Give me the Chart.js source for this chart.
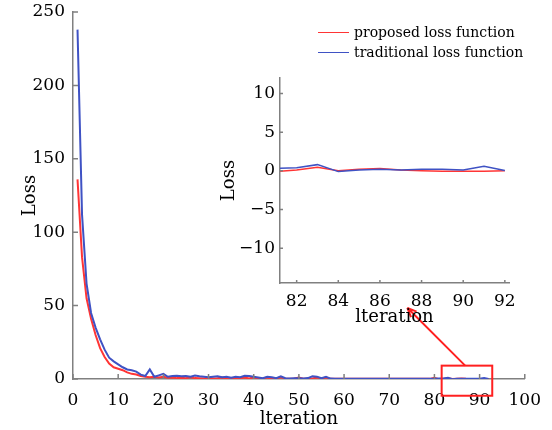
<!DOCTYPE html>
<html>
<head>
<meta charset="utf-8">
<script src="https://cdn.jsdelivr.net/npm/chart.js@4.4.1/dist/chart.umd.min.js"></script>
<style>
    html, body { margin: 0; padding: 0; background: #fff; }
    #wrap { position: relative; width: 552px; height: 430px; }
    #mainChart { position: absolute; left: 0; top: 0; }
    #insetChart { position: absolute; left: 215px; top: 70px; }
    #legend { position: absolute; left: 318px; top: 22px; font-family: "DejaVu Serif", serif; font-size: 14px; color: #000; }
    #legend .item { display: flex; align-items: center; height: 20px; }
    #legend .swatch { width: 31px; height: 0; border-top: 1.5px solid; margin-right: 5px; }
</style>
</head>
<body>
<div id="wrap">
    <canvas id="mainChart" width="552" height="430"></canvas>
    <canvas id="insetChart" width="310" height="260"></canvas>
    <div id="legend"></div>
</div>
<script>
// Iterations (x values)
const iterations = [
    1, 2, 3, 4, 5, 6, 7, 8, 9, 10, 11, 12, 13, 14, 15, 16, 17, 18, 19, 20,
    21, 22, 23, 24, 25, 26, 27, 28, 29, 30, 31, 32, 33, 34, 35, 36, 37, 38, 39, 40,
    41, 42, 43, 44, 45, 46, 47, 48, 49, 50, 51, 52, 53, 54, 55, 56, 57, 58, 59, 60,
    61, 62, 63, 64, 65, 66, 67, 68, 69, 70, 71, 72, 73, 74, 75, 76, 77, 78, 79, 80,
    81, 82, 83, 84, 85, 86, 87, 88, 89, 90, 91, 92
];

// Loss of the proposed loss function
const proposedLoss = [
    136, 83, 55, 41, 30, 21, 15, 10.5, 8, 7, 6, 4.5, 3.5, 3, 2, 1.5, 1.2, 1.5, 1, 1.5,
    0.8, 1, 0.6, 0.8, 0.5, 1.2, 0.6, 0.5, 0.4, 0.6, 0.3, 0.5, 1.0, 0.3, 0.2, 0.3, 0.5, 1.0, 0.3, 1.2,
    0.2, 0.3, 1.0, 0.2, 0.3, 1.2, 0.2, 0.2, 0.3, 1.0, 0.2, 0.2, 0.3, 1.0, 0.3, 1.0, 0.2, 0.1, 0.1, 0.1,
    0.1, 0.1, 0.1, 0.1, 0.1, 0.1, 0.1, 0.1, 0.1, 0.1, 0.1, 0.1, 0.1, 0.1, 0.1, 0.1, 0.1, 0.1, 0.1, 0.8,
    -0.1, 0.1, 0.45, 0.0, 0.2, 0.3, 0.1, 0.0, -0.05, -0.05, -0.05, 0.0
];

// Loss of the traditional loss function
const traditionalLoss = [
    238, 112, 65, 45, 35, 27, 20, 14.5, 12, 10, 8, 6.5, 6, 5, 3, 2, 6.5, 1.5, 2.5, 3.5,
    1.5, 2, 2.2, 1.8, 2, 1.5, 2.3, 1.8, 1.5, 1.2, 1.5, 1.8, 1.2, 1.5, 0.8, 1.5, 1.2, 2.2, 2, 1.5,
    1.0, 0.5, 1.5, 1.2, 0.6, 1.8, 0.5, 0.4, 0.5, 0.5, 0.4, 0.6, 1.8, 1.6, 0.5, 1.5, 0.3, 0.1, 0.1, 0.1,
    0.1, 0.1, 0.1, 0.1, 0.1, 0.1, 0.1, 0.1, 0.1, 0.1, 0.1, 0.1, 0.1, 0.1, 0.1, 0.1, 0.1, 0.1, 0.1, 0.1,
    0.3, 0.4, 0.8, -0.1, 0.1, 0.2, 0.1, 0.2, 0.2, 0.1, 0.6, 0.05
];

// Tick labels
const mainXTicks = [0, 10, 20, 30, 40, 50, 60, 70, 80, 90, 100];
const mainYTicks = [0, 50, 100, 150, 200, 250];
const insetXTicks = [82, 84, 86, 88, 90, 92];
const insetYTicks = [-10, -5, 0, 5, 10];

const seriesLabels = ['proposed loss function', 'traditional loss function'];
const seriesColors = ['#ff3535', '#3f52c4'];

const FONT = "'DejaVu Serif', serif";
const AXIS_COLOR = '#808080';

function toPoints(values) {
    return iterations.map(function(it, i) { return { x: it, y: values[i] }; });
}

function buildDatasets(width) {
    return [
        {
            label: seriesLabels[0],
            data: toPoints(proposedLoss),
            borderColor: seriesColors[0],
            borderWidth: width,
            pointRadius: 0,
            tension: 0,
            order: 1
        },
        {
            label: seriesLabels[1],
            data: toPoints(traditionalLoss),
            borderColor: seriesColors[1],
            borderWidth: width,
            pointRadius: 0,
            tension: 0,
            order: 0
        }
    ];
}

// Draws short tick marks pointing into the plot area
const innerTicks = {
    id: 'innerTicks',
    afterDraw: function(chart, args, opts) {
        const ctx = chart.ctx;
        const len = opts.length || 5;
        ctx.save();
        ctx.strokeStyle = AXIS_COLOR;
        ctx.lineWidth = 1.5;
        const xs = chart.scales.x, ys = chart.scales.y;
        ctx.beginPath();
        xs.ticks.forEach(function(t) {
            const px = xs.getPixelForValue(t.value);
            ctx.moveTo(px, xs.top);
            ctx.lineTo(px, xs.top - len);
        });
        ys.ticks.forEach(function(t) {
            const py = ys.getPixelForValue(t.value);
            ctx.moveTo(ys.right, py);
            ctx.lineTo(ys.right + len, py);
        });
        ctx.stroke();
        ctx.restore();
    }
};

// Zoom rectangle and arrow pointing to the inset (data coordinates)
const zoomMark = {
    box: { xMin: 81.6, xMax: 92.8, yMin: -11.4, yMax: 9.1 },
    arrow: { fromX: 86.8, fromY: 9.1, toX: 74.0, toY: 48.5 }
};

const zoomBoxPlugin = {
    id: 'zoomBox',
    afterDraw: function(chart) {
        const ctx = chart.ctx;
        const xs = chart.scales.x, ys = chart.scales.y;
        const b = zoomMark.box, a = zoomMark.arrow;
        const x1 = xs.getPixelForValue(b.xMin), x2 = xs.getPixelForValue(b.xMax);
        const y1 = ys.getPixelForValue(b.yMax), y2 = ys.getPixelForValue(b.yMin);
        const ax1 = xs.getPixelForValue(a.fromX), ay1 = ys.getPixelForValue(a.fromY);
        const ax2 = xs.getPixelForValue(a.toX), ay2 = ys.getPixelForValue(a.toY);
        ctx.save();
        ctx.strokeStyle = '#ff2020';
        ctx.lineWidth = 2;
        ctx.strokeRect(x1, y1, x2 - x1, y2 - y1);
        ctx.beginPath();
        ctx.moveTo(ax1, ay1);
        ctx.lineTo(ax2, ay2);
        const ang = Math.atan2(ay2 - ay1, ax2 - ax1);
        const head = 10;
        ctx.moveTo(ax2, ay2);
        ctx.lineTo(ax2 - head * Math.cos(ang - 0.4), ay2 - head * Math.sin(ang - 0.4));
        ctx.moveTo(ax2, ay2);
        ctx.lineTo(ax2 - head * Math.cos(ang + 0.4), ay2 - head * Math.sin(ang + 0.4));
        ctx.stroke();
        ctx.restore();
    }
};

function setTicks(values) {
    return function(scale) {
        scale.ticks = values.map(function(v) { return { value: v }; });
    };
}

// Fixes the y axis width and drops the extra label padding Chart.js adds on top
function fitY(width) {
    return function(scale) {
        scale.width = width;
        scale.paddingTop = 0;
        scale.paddingBottom = 0;
    };
}

function minusLabel(value) {
    return value < 0 ? '\u2212' + Math.abs(value) : String(value);
}

document.addEventListener('DOMContentLoaded', function() {
    const mainCanvas = document.getElementById('mainChart');
    const mainChart = new Chart(mainCanvas.getContext('2d'), {
        type: 'line',
        data: { datasets: buildDatasets(2) },
        options: {
            responsive: false,
            animation: false,
            layout: { padding: { left: 0, top: 12, right: 25, bottom: 0 } },
            plugins: {
                legend: { display: false },
                tooltip: { enabled: false },
                innerTicks: { length: 5 }
            },
            scales: {
                x: {
                    type: 'linear',
                    min: 0,
                    max: 100,
                    afterBuildTicks: setTicks(mainXTicks),
                    afterFit: function(scale) { scale.height = 51; },
                    grid: { display: false, drawTicks: false },
                    border: { display: true, color: AXIS_COLOR, width: 1.5 },
                    ticks: { padding: 11, color: '#000', maxRotation: 0, font: { family: FONT, size: 17 } },
                    title: { display: true, text: 'lteration', color: '#000', padding: { top: 0, bottom: 0 }, font: { family: FONT, size: 18 } }
                },
                y: {
                    min: 0,
                    max: 250,
                    afterBuildTicks: setTicks(mainYTicks),
                    afterFit: fitY(73),
                    grid: { display: false, drawTicks: false },
                    border: { display: true, color: AXIS_COLOR, width: 1.5 },
                    ticks: { padding: 8, color: '#000', font: { family: FONT, size: 17 } },
                    title: { display: true, text: 'Loss', color: '#000', padding: { top: 20, bottom: 0 }, font: { family: FONT, size: 18 } }
                }
            }
        },
        plugins: [innerTicks, zoomBoxPlugin]
    });

    const insetCanvas = document.getElementById('insetChart');
    new Chart(insetCanvas.getContext('2d'), {
        type: 'line',
        data: { datasets: buildDatasets(1.5) },
        options: {
            responsive: false,
            animation: false,
            layout: { padding: { left: 0, top: 8, right: 16, bottom: 0 } },
            plugins: {
                legend: { display: false },
                tooltip: { enabled: false },
                innerTicks: { length: 3 }
            },
            scales: {
                x: {
                    type: 'linear',
                    min: 81.2,
                    max: 92.2,
                    afterBuildTicks: setTicks(insetXTicks),
                    afterFit: function(scale) { scale.height = 47; },
                    grid: { display: false, drawTicks: false },
                    border: { display: true, color: AXIS_COLOR, width: 1.5 },
                    ticks: { padding: 8, color: '#000', maxRotation: 0, font: { family: FONT, size: 17 } },
                    title: { display: true, text: 'lteration', color: '#000', padding: { top: 0, bottom: 2 }, font: { family: FONT, size: 18 } }
                },
                y: {
                    min: -14.5,
                    max: 12,
                    afterBuildTicks: setTicks(insetYTicks),
                    afterFit: fitY(65),
                    grid: { display: false, drawTicks: false },
                    border: { display: true, color: AXIS_COLOR, width: 1.5 },
                    ticks: { padding: 5, color: '#000', callback: minusLabel, font: { family: FONT, size: 17 } },
                    title: { display: true, text: 'Loss', color: '#000', padding: { top: 4, bottom: 0 }, font: { family: FONT, size: 18 } }
                }
            }
        },
        plugins: [innerTicks]
    });

    // Legend built from the main chart's datasets
    const legend = document.getElementById('legend');
    mainChart.data.datasets.forEach(function(ds) {
        const item = document.createElement('div');
        item.className = 'item';
        const sw = document.createElement('span');
        sw.className = 'swatch';
        sw.style.borderTopColor = ds.borderColor;
        const txt = document.createElement('span');
        txt.textContent = ds.label;
        item.appendChild(sw);
        item.appendChild(txt);
        legend.appendChild(item);
    });
});
</script>
</body>
</html>
